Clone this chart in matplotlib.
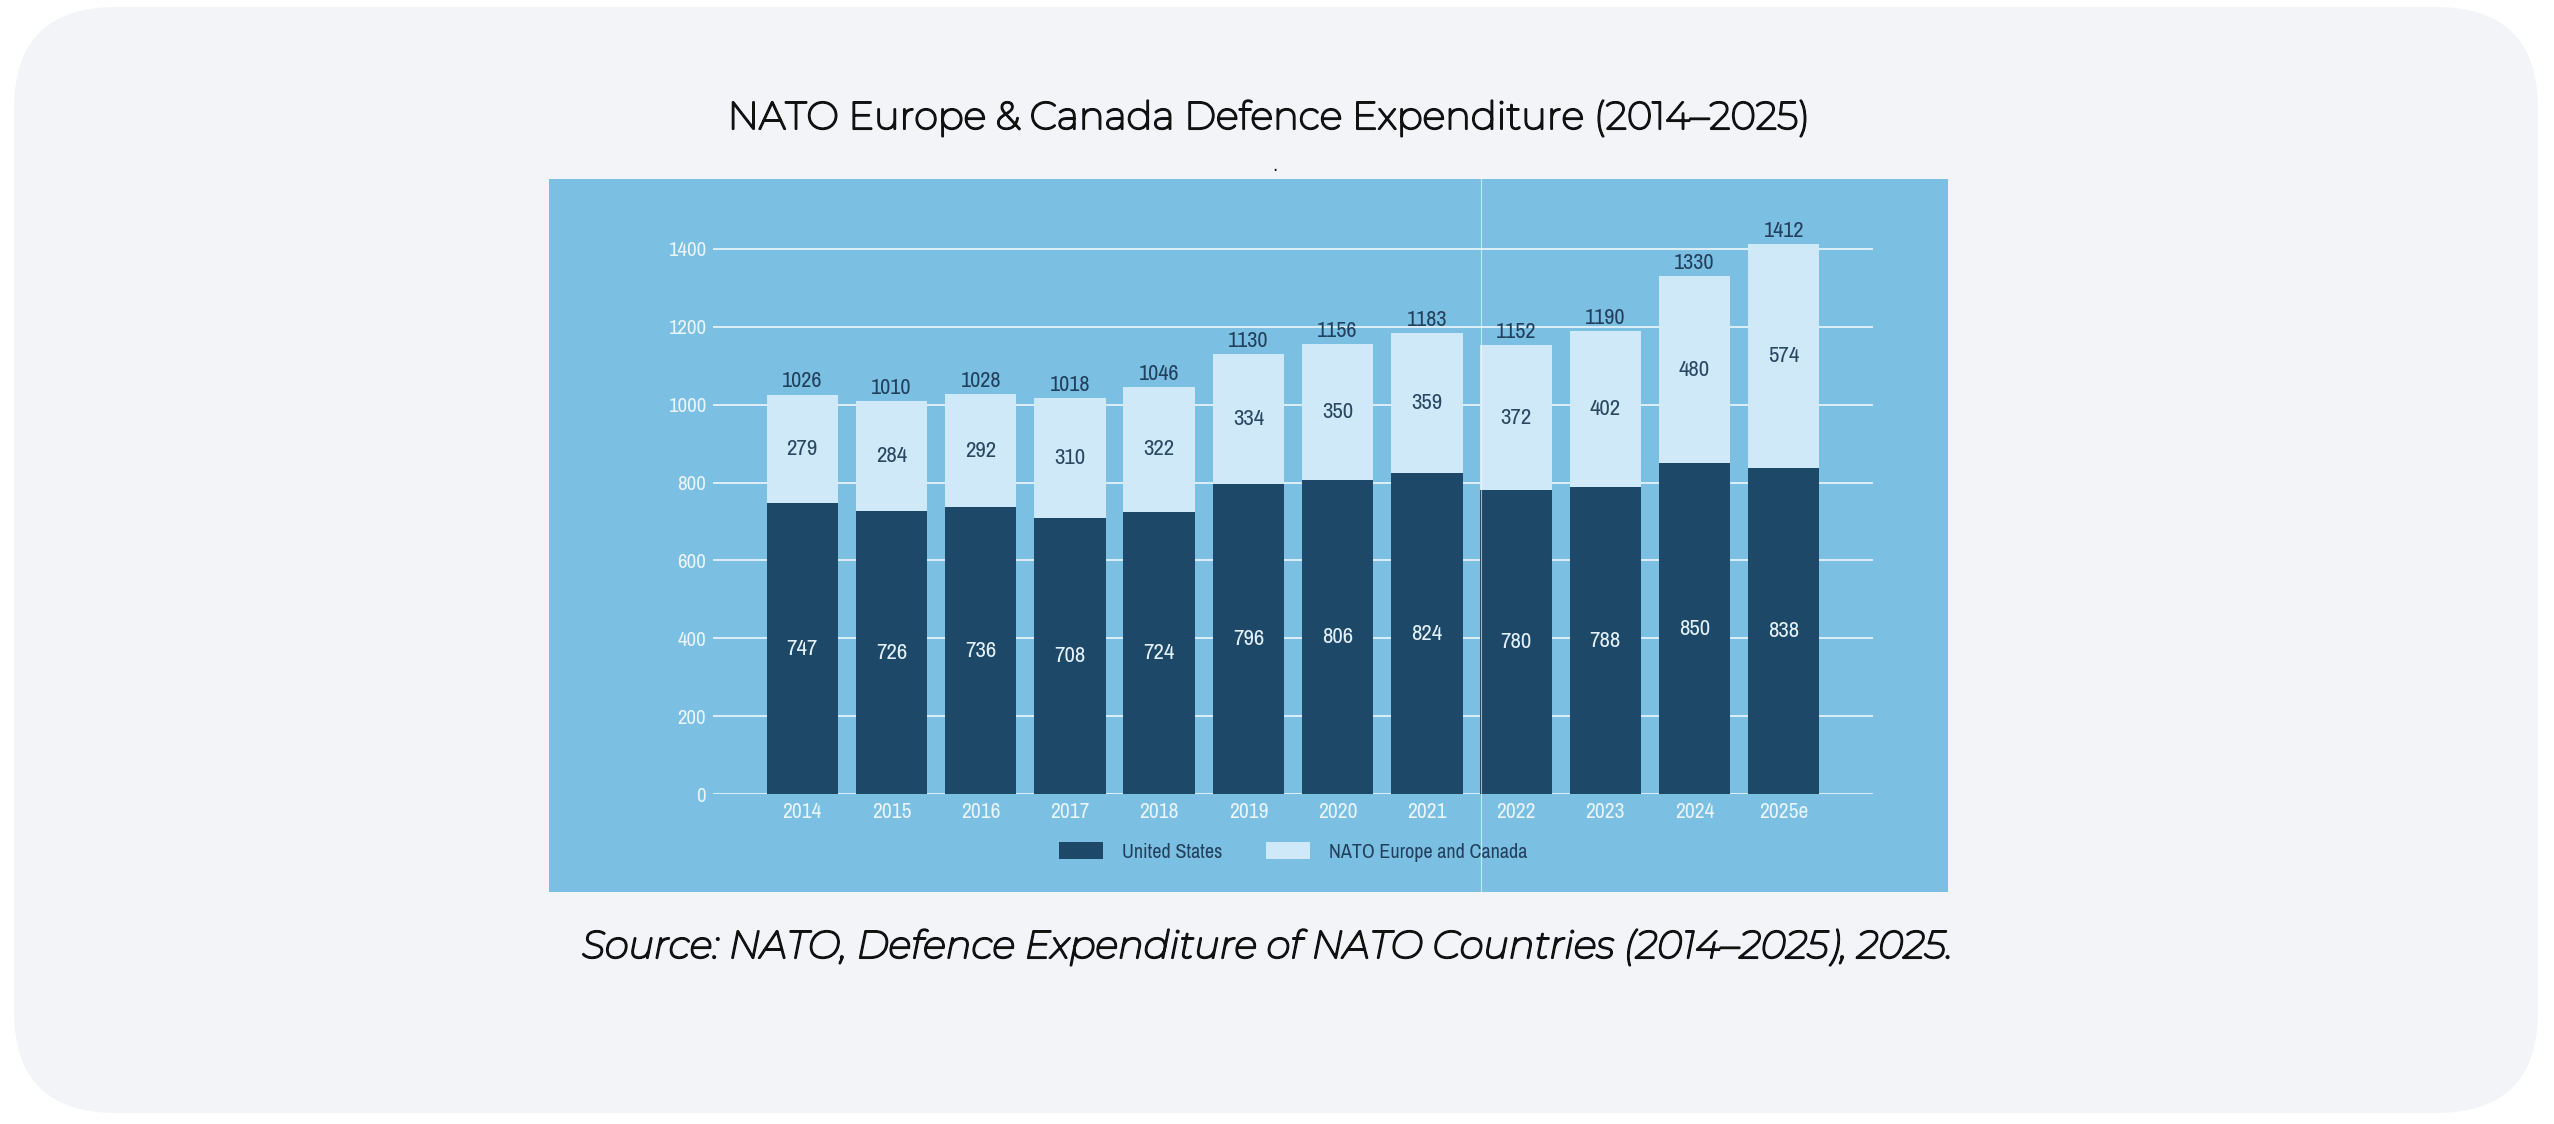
import matplotlib
matplotlib.use("Agg")
import matplotlib.pyplot as plt
import matplotlib.patheffects as pe
from matplotlib.patches import FancyBboxPatch, Rectangle, Patch
import numpy as np

years = ["2014", "2015", "2016", "2017", "2018", "2019", "2020", "2021", "2022", "2023", "2024", "2025e"]
us = [747, 726, 736, 708, 724, 796, 806, 824, 780, 788, 850, 838]
europe_canada = [279, 284, 292, 310, 322, 334, 350, 359, 372, 402, 480, 574]
totals = [1026, 1010, 1028, 1018, 1046, 1130, 1156, 1183, 1152, 1190, 1330, 1412]
yticks = [0, 200, 400, 600, 800, 1000, 1200, 1400]

W, H = 2554, 1124
fig = plt.figure(figsize=(W / 100, H / 100), dpi=100)
fig.patch.set_facecolor("white")

def fx(x):
    return x / W

def fy(y):
    return 1 - y / H

# page card
card = FancyBboxPatch((fx(14), fy(1113)), fx(2538 - 14), (1113 - 7) / H,
                      boxstyle="round,pad=0,rounding_size=0.04",
                      mutation_aspect=W / H,
                      transform=fig.transFigure, facecolor="#f3f4f8", edgecolor="none", zorder=0)
fig.patches.append(card)

chart_font = ["Archivo Narrow", "Liberation Sans", "DejaVu Sans"]
page_font = ["Montserrat", "Open Sans", "DejaVu Sans"]
# only the thin Montserrat is available, so thicken it with a stroke
bold_up = [pe.Stroke(linewidth=1.5, foreground="#111111"), pe.Normal()]

fig.text(fx(1270), fy(118), "NATO Europe & Canada Defence Expenditure (2014\u20132025)",
         ha="center", va="center", fontsize=27.7, color="#111111", family=page_font,
         path_effects=bold_up)
fig.text(fx(1275), fy(166), ".", ha="center", va="center", fontsize=12, color="#111111")

# blue panel (the embedded chart image)
panel = Rectangle((fx(549), fy(892)), fx(1948 - 549), (892 - 179) / H,
                  transform=fig.transFigure, facecolor="#7bbfe3", edgecolor="none", zorder=1)
fig.patches.append(panel)

ax = fig.add_axes([fx(713), fy(794), fx(1873 - 713), (794 - 210) / H])
ax.set_facecolor("none")
ax.set_zorder(2)

x = np.arange(len(years))
us_col = "#1d4868"
eu_col = "#cfe9f9"
ax.bar(x, us, width=0.8, color=us_col, zorder=3)
ax.bar(x, europe_canada, bottom=us, width=0.8, color=eu_col, zorder=3)

for i in range(len(years)):
    ax.text(x[i], us[i] / 2, str(us[i]), ha="center", va="center", fontsize=16.5,
            color="#e4f1fa", family=chart_font, zorder=4)
    ax.text(x[i], us[i] + europe_canada[i] / 2, str(europe_canada[i]), ha="center", va="center",
            fontsize=16.5, color="#2b4863", family=chart_font, zorder=4)
    ax.text(x[i], totals[i] + 8, str(totals[i]), ha="center", va="bottom", fontsize=16,
            color="#22405c", family=chart_font, zorder=4)

ax.set_xlim(-1, 12)
ax.set_ylim(0, 1500)
ax.set_yticks(yticks)
ax.set_xticks(x)
ax.set_xticklabels(years)
ax.grid(axis="y", color="#eef7fc", linewidth=1.2, zorder=1)
ax.tick_params(length=0, labelsize=15, labelcolor="#eaf5fc")
ax.tick_params(axis="x", pad=6, labelsize=15.5)
ax.tick_params(axis="y", pad=5)
for lab in ax.get_xticklabels() + ax.get_yticklabels():
    lab.set_family(chart_font)
for s in ax.spines.values():
    s.set_visible(False)

handles = [Patch(facecolor=us_col, label="United States"),
           Patch(facecolor=eu_col, label="NATO Europe and Canada")]
leg = ax.legend(handles=handles, loc="center", bbox_to_anchor=(fx(1293), fy(852)),
                bbox_transform=fig.transFigure, ncol=2, frameon=False,
                prop={"family": chart_font, "size": 14.5},
                handlelength=2.2, handleheight=0.85, handletextpad=0.9, columnspacing=2.2)
for t in leg.get_texts():
    t.set_color("#22405c")

# faint vertical seam in the image
fig.add_artist(plt.Line2D([fx(1481), fx(1481)], [fy(892), fy(179)], transform=fig.transFigure,
                          color="white", linewidth=0.8, alpha=0.6, zorder=5))

fig.text(fx(1268), fy(947), "Source: NATO, Defence Expenditure of NATO Countries (2014\u20132025), 2025.",
         ha="center", va="center", fontsize=27.7, style="italic", color="#111111", family=page_font,
         path_effects=bold_up)

fig.savefig("out.png", dpi=100, facecolor=fig.get_facecolor())
